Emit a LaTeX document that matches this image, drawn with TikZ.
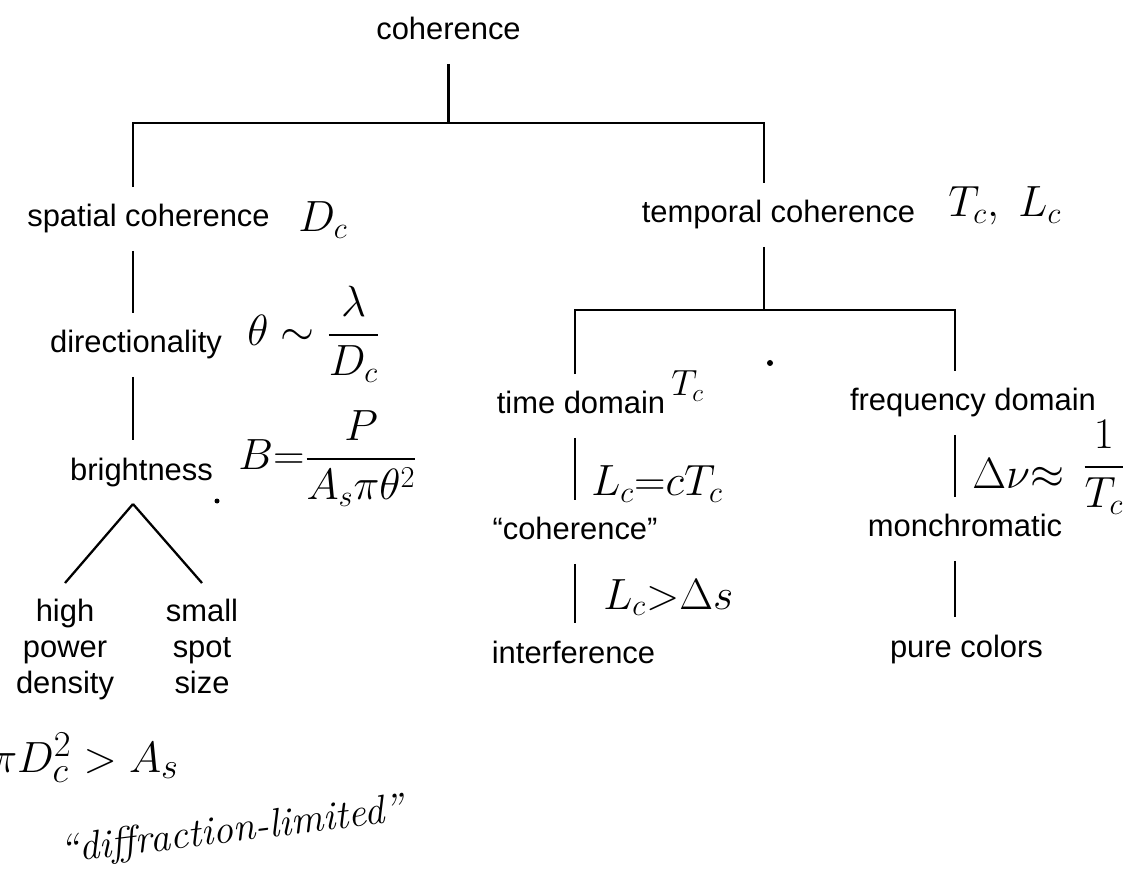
\documentclass[tikz,border=0pt]{standalone}
\usepackage{amsmath}
\usepackage{fontspec}
\newfontfamily\labelfont{Liberation Sans}
\begin{document}
\begin{tikzpicture}[x=0.02cm,y=-0.02cm,
  lbl/.style={font=\labelfont\fontsize{17.6}{20.4}\selectfont, inner sep=0pt,
    text height=0.46cm, text depth=0.14cm, outer xsep=0pt, outer ysep=0.34cm, anchor=base},
  leaf/.style={font=\labelfont\fontsize{17.6}{20.4}\selectfont, inner sep=0pt,
    align=center, outer sep=0.33cm, anchor=north},
  hand/.style={font=\fontsize{24}{28}\selectfont, inner sep=0pt, anchor=base west},
  link/.style={line width=1.3pt},
  pen/.style={fill=black}]
\useasboundingbox (0,0) rectangle (1143,878);

% tree labels
\node[lbl] (coh)      at (448.5,40)  {coherence};
\node[lbl] (spatial)  at (148.5,227) {spatial coherence};
\node[lbl] (direc)    at (136,353)   {directionality};
\node[lbl] (bright)   at (141.5,480) {brightness};
\node[leaf] (high)    at (65,583)    {high\\power\\density};
\node[leaf] (small)   at (202,583)   {small\\spot\\size};
\node[lbl] (temporal) at (778.5,223) {temporal coherence};
\node[lbl] (tdom)     at (581,414)   {time domain};
\node[lbl] (fdom)     at (973,411)   {frequency domain};
\node[lbl] (qcoh)     at (575,540)   {“coherence”};
\node[lbl] (mono)     at (965,537)   {monchromatic};
\node[lbl] (interf)   at (573.5,663) {interference};
\node[lbl] (pure)     at (966.5,657) {pure colors};

% junction points of the buses
\coordinate (busL)  at (133,123);
\coordinate (busR)  at (764,123);
\coordinate (busT)  at (764,310);
\coordinate (busL2) at (575,310);
\coordinate (busR2) at (955,310);

% connectors
\draw[link] (coh.south) -- (coh.south |- busL);
\draw[link] (spatial.north -| busL) -- (busL) -- (busR) -- (temporal.north -| busR);
\draw[link] (spatial.south -| busL) -- (direc.north -| busL);
\draw[link] (direc.south -| busL) -- (bright.north -| busL);
\draw[link] (bright.south -| busL) -- (high.north);
\draw[link] (bright.south -| busL) -- (small.north);
\draw[link] (temporal.south -| busR) -- (busT);
\draw[link] (tdom.north -| busL2) -- (busL2) -- (busR2) -- (fdom.north -| busR2);
\draw[link] (tdom.south -| busL2) -- (qcoh.north -| busL2);
\draw[link] (qcoh.south -| busL2) -- (interf.north -| busL2);
\draw[link] (fdom.south -| busR2) -- (mono.north -| busR2);
\draw[link] (mono.south -| busR2) -- (pure.north -| busR2);

% handwritten formulas
\node[hand, font=\fontsize{26}{30}\selectfont] (dc)    at (298,232) {$D_c$};
\node[hand] (theta) at (247,346) {$\theta\sim\dfrac{\lambda}{D_c}$};
\node[hand] (beq)   at (238,470) {$B{=}\dfrac{P}{A_s\pi\theta^2}$};
\node[hand, font=\fontsize{26}{30}\selectfont] (tclc)  at (948,217) {$T_c,\; L_c$};
\node[hand, font=\fontsize{22}{26}\selectfont] (tc)    at (671,396) {$T_c$};
\node[hand, font=\fontsize{26}{30}\selectfont] (lceq)  at (591,496) {$L_c{=}cT_c$};
\node[hand] (lcgt)  at (603,609) {$L_c{>}\Delta s$};
\node[hand] (dnu)   at (972,488) {$\Delta\nu{\approx}$};
\node[font=\fontsize{24}{28}\selectfont, inner sep=0pt] (inv) at (1104,467) {$\dfrac{1}{T_c}$};
\node[hand, font=\fontsize{28}{32}\selectfont] (area) at (-9,772) {$\pi D_c^2 > A_s$};
\node[font=\itshape\fontsize{23}{27}\selectfont, inner sep=0pt, rotate=7] (difl) at (232,832) {“diffraction-limited”};

% pen dots
\fill[pen] (217,501) circle (2.5);
\fill[pen] (770,363) circle (3);
\end{tikzpicture}
\end{document}
